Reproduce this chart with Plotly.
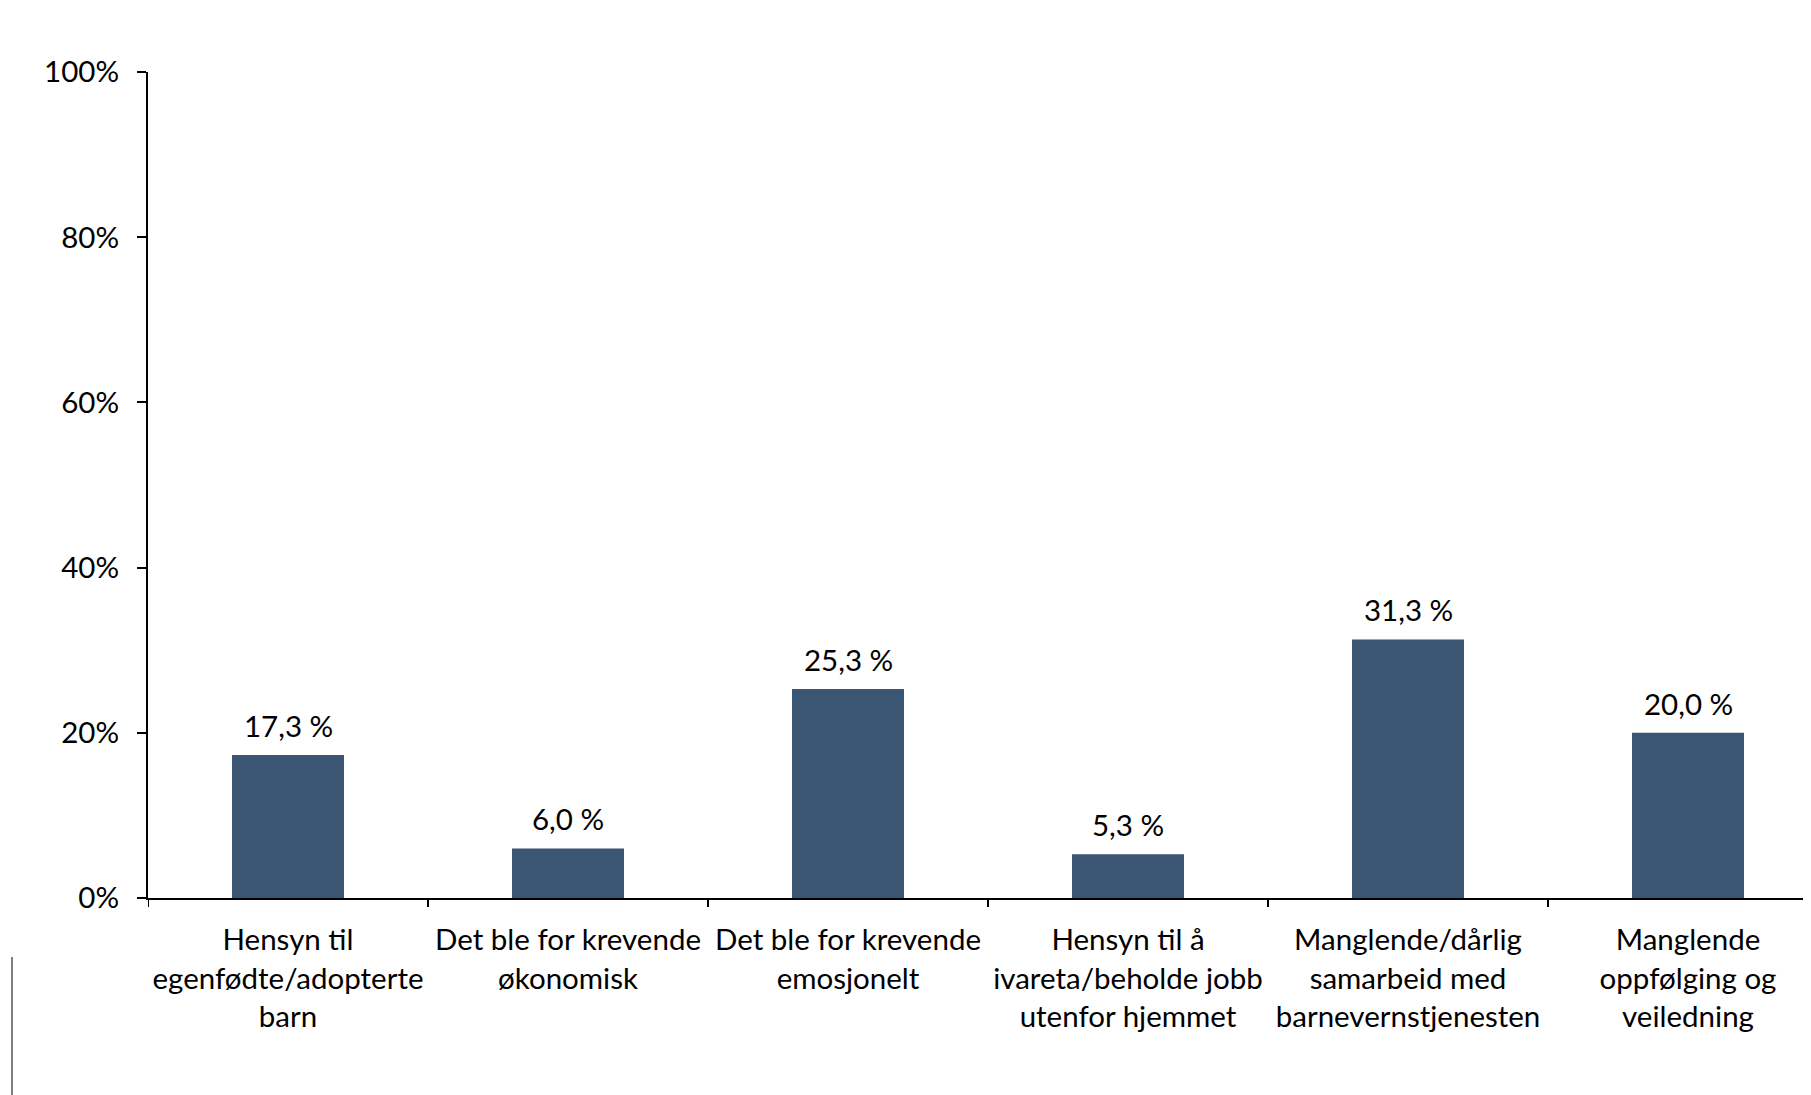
import plotly.graph_objects as go

categories = [
    "Hensyn til<br>egenfødte/adopterte<br>barn",
    "Det ble for krevende<br>økonomisk",
    "Det ble for krevende<br>emosjonelt",
    "Hensyn til å<br>ivareta/beholde jobb<br>utenfor hjemmet",
    "Manglende/dårlig<br>samarbeid med<br>barnevernstjenesten",
    "Manglende<br>oppfølging og<br>veiledning",
]
values = [0.173, 0.060, 0.253, 0.053, 0.313, 0.200]
value_labels = ["17,3 %", "6,0 %", "25,3 %", "5,3 %", "31,3 %", "20,0 %"]
y_ticks = [0, 0.2, 0.4, 0.6, 0.8, 1.0]
y_tick_labels = ["0%", "20%", "40%", "60%", "80%", "100%"]

FONT = "Lato, Carlito, Calibri, sans-serif"
FS = 29.5
BAR = "#3A5673"

fig = go.Figure()
fig.add_trace(go.Bar(
    x=list(range(len(categories))), y=values, width=0.4,
    marker=dict(color=BAR, line=dict(width=0)),
    hoverinfo="skip",
))

for i, (v, t) in enumerate(zip(values, value_labels)):
    fig.add_annotation(x=i, y=v, text=t, showarrow=False, yanchor="bottom",
                       yshift=10, font=dict(family=FONT, size=FS, color="#000"))

# page has an 8px body margin; plot area sits at page x 148.., y 72..898
W, H = 1811, 1095
L, R, T = 140, 0, 64
PH = 826
B = H - T - PH
PW = W - L - R
cat_w = 280.0
fig.update_layout(
    width=W, height=H,
    margin=dict(l=L, r=R, t=T, b=B, pad=0),
    paper_bgcolor="white", plot_bgcolor="white",
    showlegend=False,
    font=dict(family=FONT, size=FS, color="#000"),
    xaxis=dict(
        range=[-0.5, -0.5 + PW / cat_w],
        tickmode="array",
        tickvals=list(range(len(categories))),
        ticktext=categories,
        ticks="", showgrid=False, zeroline=False,
        ticklabelstandoff=15,
        showline=True, linecolor="#000", linewidth=2,
        tickfont=dict(family=FONT, size=FS, color="#000"),
    ),
    yaxis=dict(
        range=[0, 1],
        tickmode="array", tickvals=y_ticks, ticktext=y_tick_labels,
        ticks="outside", ticklen=9, tickwidth=2, tickcolor="#000",
        ticklabelstandoff=12,
        showgrid=False, zeroline=False,
        showline=True, linecolor="#000", linewidth=2,
        tickfont=dict(family=FONT, size=FS, color="#000"),
    ),
)

# category boundary tick marks below the x axis
for k in range(len(categories) + 1):
    fig.add_shape(type="line", xref="x", yref="paper",
                  x0=k - 0.5, x1=k - 0.5, y0=0, y1=-9 / PH,
                  line=dict(color="#000", width=2))

# stray vertical line at the left edge
fig.add_shape(type="line", xref="paper", yref="paper",
              x0=-136 / PW, x1=-136 / PW,
              y0=-59 / PH, y1=-B / PH,
              line=dict(color="#000", width=1))

fig.write_html("out.html")
